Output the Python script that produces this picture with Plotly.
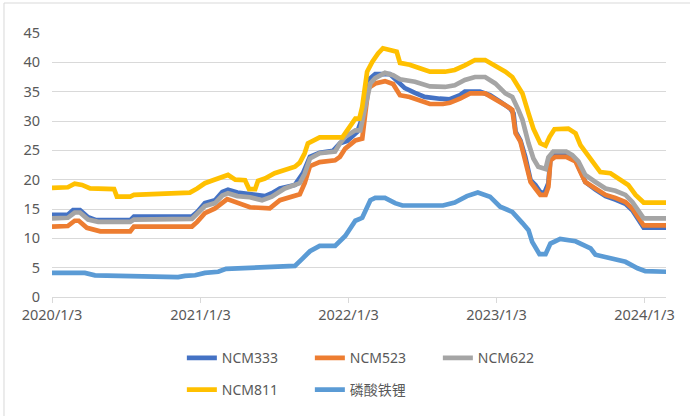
import plotly.graph_objects as go

# ---------------- data ----------------
series_names = ["NCM333", "NCM523", "NCM622", "NCM811", "磷酸铁锂"]
series_colors = ["#4472C4", "#ED7D31", "#A5A5A5", "#FFC000", "#5B9BD5"]

ncm333_dates = ["2020-01-03", "2020-02-11", "2020-02-24", "2020-03-12", "2020-04-01", "2020-04-21",
                "2020-07-14", "2020-07-23", "2020-12-13", "2020-12-26", "2021-01-14", "2021-02-08",
                "2021-02-26", "2021-03-12", "2021-04-04", "2021-05-05", "2021-06-11", "2021-06-28",
                "2021-07-18", "2021-08-24", "2021-09-13", "2021-09-30", "2021-10-24", "2021-11-26",
                "2021-12-13", "2021-12-31", "2022-01-25", "2022-02-06", "2022-02-13", "2022-02-21",
                "2022-03-10", "2022-04-15", "2022-05-02", "2022-05-22", "2022-06-16", "2022-07-10",
                "2022-08-16", "2022-09-10", "2022-10-05", "2022-10-17", "2022-11-23", "2022-12-18",
                "2023-01-12", "2023-02-06", "2023-02-14", "2023-02-19", "2023-03-03", "2023-03-15",
                "2023-03-28", "2023-04-09", "2023-04-21", "2023-05-01", "2023-05-11", "2023-05-16",
                "2023-05-28", "2023-06-24", "2023-07-17", "2023-07-29", "2023-08-10", "2023-09-04",
                "2023-09-29", "2023-10-23", "2023-11-17", "2023-12-04", "2023-12-19", "2024-01-01",
                "2024-02-26"]
ncm333_values = [14.0, 14.0, 14.8, 14.8, 13.6, 13.1,
                 13.1, 13.7, 13.7, 14.5, 16.0, 16.5,
                 17.9, 18.3, 17.8, 17.5, 17.2, 17.7,
                 18.5, 19.1, 21.1, 23.9, 24.6, 24.9,
                 26.2, 26.6, 28.2, 30.5, 32.4, 37.0,
                 38.0, 38.0, 37.0, 35.6, 34.8, 34.1,
                 33.8, 33.7, 34.4, 35.0, 35.0, 34.4,
                 33.3, 32.1, 31.3, 28.2, 26.7, 23.9,
                 19.9, 19.1, 17.9, 17.7, 19.4, 23.6,
                 24.2, 24.2, 23.4, 21.5, 19.6, 18.3,
                 17.2, 16.6, 15.9, 14.8, 13.0, 11.8,
                 11.8]

ncm523_dates = ["2020-01-03", "2020-02-11", "2020-02-28", "2020-03-09", "2020-03-29", "2020-05-01",
                "2020-07-14", "2020-07-23", "2020-12-13", "2020-12-26", "2021-01-14", "2021-02-08",
                "2021-03-10", "2021-04-11", "2021-05-05", "2021-06-23", "2021-07-18", "2021-09-05",
                "2021-09-17", "2021-09-30", "2021-10-24", "2021-12-01", "2021-12-13", "2021-12-26",
                "2022-01-20", "2022-02-06", "2022-02-21", "2022-03-10", "2022-04-03", "2022-04-23",
                "2022-05-10", "2022-06-03", "2022-06-28", "2022-07-23", "2022-08-24", "2022-09-10",
                "2022-10-05", "2022-10-30", "2022-12-06", "2022-12-31", "2023-01-25", "2023-02-11",
                "2023-02-19", "2023-03-03", "2023-03-15", "2023-03-28", "2023-04-09", "2023-04-21",
                "2023-05-04", "2023-05-11", "2023-05-16", "2023-05-28", "2023-06-24", "2023-07-17",
                "2023-07-29", "2023-08-10", "2023-09-04", "2023-09-29", "2023-10-23", "2023-11-17",
                "2023-12-04", "2023-12-19", "2024-01-01", "2024-02-26"]
ncm523_values = [12.0, 12.1, 13.0, 13.0, 11.8, 11.2,
                 11.2, 12.0, 12.0, 12.8, 14.3, 15.1,
                 16.7, 16.0, 15.3, 15.1, 16.5, 17.5,
                 19.4, 22.3, 23.0, 23.3, 23.9, 25.3,
                 26.7, 27.0, 35.6, 36.4, 36.8, 36.3,
                 34.4, 34.1, 33.4, 32.9, 32.9, 33.1,
                 33.8, 34.7, 34.7, 33.8, 32.7, 31.9,
                 27.9, 26.5, 23.3, 19.6, 18.5, 17.4,
                 17.4, 18.8, 23.3, 23.9, 23.9, 23.1,
                 21.3, 19.6, 18.5, 17.4, 16.9, 16.2,
                 15.1, 13.4, 12.2, 12.2]

ncm622_dates = ["2020-01-03", "2020-02-11", "2020-02-28", "2020-03-12", "2020-04-01", "2020-04-26",
                "2020-07-14", "2020-07-23", "2020-12-13", "2020-12-26", "2021-01-14", "2021-02-08",
                "2021-02-26", "2021-03-12", "2021-04-04", "2021-05-05", "2021-06-04", "2021-06-28",
                "2021-07-30", "2021-09-05", "2021-09-17", "2021-09-30", "2021-10-24", "2021-12-01",
                "2021-12-13", "2021-12-26", "2022-01-20", "2022-02-01", "2022-02-13", "2022-02-26",
                "2022-03-10", "2022-04-03", "2022-04-23", "2022-05-10", "2022-06-16", "2022-07-23",
                "2022-08-29", "2022-09-22", "2022-10-17", "2022-11-11", "2022-12-06", "2022-12-31",
                "2023-01-25", "2023-02-11", "2023-02-26", "2023-03-08", "2023-03-23", "2023-04-04",
                "2023-04-16", "2023-05-04", "2023-05-11", "2023-05-23", "2023-06-24", "2023-07-09",
                "2023-07-24", "2023-08-10", "2023-09-04", "2023-09-29", "2023-10-23", "2023-11-17",
                "2023-12-04", "2023-12-19", "2024-01-01", "2024-02-26"]
ncm622_values = [13.4, 13.5, 14.4, 14.4, 13.2, 12.8,
                 12.8, 13.2, 13.3, 14.1, 15.5, 16.0,
                 17.3, 17.7, 17.2, 17.0, 16.5, 17.1,
                 18.5, 19.4, 21.0, 23.6, 24.5, 24.8,
                 26.2, 27.3, 28.4, 28.4, 32.4, 36.4,
                 37.3, 38.2, 37.8, 37.1, 36.7, 35.9,
                 35.8, 36.1, 37.0, 37.5, 37.5, 36.4,
                 34.7, 34.1, 31.9, 30.2, 26.2, 23.6,
                 22.2, 21.8, 23.8, 24.8, 24.8, 24.2,
                 23.1, 20.8, 19.6, 18.5, 18.1, 17.4,
                 16.2, 14.5, 13.4, 13.4]

ncm811_dates = ["2020-01-03", "2020-02-11", "2020-02-28", "2020-03-17", "2020-04-06", "2020-06-04",
                "2020-06-11", "2020-07-14", "2020-07-23", "2020-08-27", "2020-09-06", "2020-12-08",
                "2020-12-26", "2021-01-14", "2021-02-03", "2021-02-26", "2021-03-12", "2021-03-30",
                "2021-04-23", "2021-05-03", "2021-05-18", "2021-05-25", "2021-06-11", "2021-07-05",
                "2021-07-30", "2021-08-24", "2021-09-05", "2021-09-17", "2021-09-25", "2021-10-12",
                "2021-10-24", "2021-12-19", "2022-01-02", "2022-01-20", "2022-01-30", "2022-02-06",
                "2022-02-18", "2022-03-03", "2022-03-17", "2022-03-29", "2022-04-15", "2022-05-02",
                "2022-05-10", "2022-06-03", "2022-06-28", "2022-07-23", "2022-08-29", "2022-09-22",
                "2022-10-17", "2022-11-11", "2022-12-06", "2022-12-31", "2023-01-25", "2023-02-11",
                "2023-02-26", "2023-03-08", "2023-03-23", "2023-04-04", "2023-04-21", "2023-05-04",
                "2023-05-14", "2023-05-26", "2023-06-29", "2023-07-17", "2023-07-29", "2023-08-15",
                "2023-09-04", "2023-09-16", "2023-10-11", "2023-11-05", "2023-11-24", "2023-12-12",
                "2024-01-01", "2024-02-26"]
ncm811_values = [18.6, 18.7, 19.3, 19.1, 18.5, 18.4,
                 17.1, 17.1, 17.4, 17.5, 17.7, 17.8,
                 18.5, 19.4, 19.9, 20.5, 20.8, 20.0,
                 19.9, 18.4, 18.4, 19.8, 20.2, 21.1,
                 21.6, 22.2, 22.9, 24.5, 26.2, 26.7,
                 27.2, 27.2, 28.7, 30.4, 30.4, 32.4,
                 38.4, 40.1, 41.5, 42.4, 42.1, 41.8,
                 39.9, 39.6, 39.0, 38.4, 38.4, 38.7,
                 39.5, 40.4, 40.4, 39.5, 38.4, 37.5,
                 35.8, 34.7, 31.3, 28.7, 26.2, 25.8,
                 27.3, 28.6, 28.7, 27.9, 25.9, 24.2,
                 22.5, 21.3, 21.1, 19.9, 19.1, 17.4,
                 16.1, 16.1]

lfp_dates = ["2020-01-03", "2020-03-24", "2020-04-18", "2020-08-07", "2020-08-20", "2020-11-09",
             "2020-11-26", "2020-12-21", "2021-01-14", "2021-02-16", "2021-03-07", "2021-04-23",
             "2021-06-04", "2021-07-18", "2021-08-24", "2021-09-11", "2021-09-30", "2021-10-24",
             "2021-12-01", "2021-12-26", "2022-01-20", "2022-02-06", "2022-02-26", "2022-03-10",
             "2022-04-03", "2022-04-28", "2022-05-16", "2022-08-24", "2022-09-22", "2022-10-22",
             "2022-11-18", "2022-12-18", "2023-01-12", "2023-02-11", "2023-02-26", "2023-03-08",
             "2023-03-23", "2023-04-01", "2023-04-19", "2023-05-04", "2023-05-16", "2023-06-09",
             "2023-07-17", "2023-08-23", "2023-09-04", "2023-10-23", "2023-11-17", "2023-12-17",
             "2024-01-05", "2024-02-26"]
lfp_values = [4.1, 4.1, 3.7, 3.6, 3.4, 3.4,
              3.6, 3.7, 4.1, 4.3, 4.8, 4.9,
              5.1, 5.2, 5.3, 6.5, 7.8, 8.7,
              8.7, 10.4, 13.0, 13.5, 16.5, 16.9,
              16.9, 16.0, 15.6, 15.6, 16.1, 17.2,
              17.8, 17.1, 15.4, 14.5, 13.5, 12.6,
              11.4, 9.4, 7.3, 7.3, 9.1, 9.9,
              9.5, 8.3, 7.2, 6.3, 6.0, 4.9,
              4.4, 4.3]

x_tick_dates = ["2020-01-03", "2021-01-03", "2022-01-03", "2023-01-03", "2024-01-03"]
x_tick_labels = ["2020/1/3", "2021/1/3", "2022/1/3", "2023/1/3", "2024/1/3"]
y_tick_values = [0, 5, 10, 15, 20, 25, 30, 35, 40, 45]

all_dates = [ncm333_dates, ncm523_dates, ncm622_dates, ncm811_dates, lfp_dates]
all_values = [ncm333_values, ncm523_values, ncm622_values, ncm811_values, lfp_values]
legend_slots = ["legend", "legend", "legend", "legend2", "legend2"]

# ---------------- figure ----------------
FONT = "Noto Sans, Noto Sans CJK SC, sans-serif"
TEXT = "#595959"
GRID = "#d9d9d9"

fig = go.Figure()
for name, color, d, v, lg in zip(series_names, series_colors, all_dates, all_values, legend_slots):
    fig.add_trace(go.Scatter(x=d, y=v, name=name, mode="lines",
                             line=dict(color=color, width=4.7),
                             legend=lg, hoverinfo="skip"))

legend_common = dict(orientation="h", xanchor="left", yanchor="middle",
                     entrywidth=83, entrywidthmode="pixels",
                     font=dict(family=FONT, size=14, color=TEXT),
                     bgcolor="rgba(0,0,0,0)", traceorder="normal")

fig.update_layout(
    template="none",
    width=690, height=416,
    margin=dict(l=52, r=24, t=33, b=119, autoexpand=False),
    paper_bgcolor="white", plot_bgcolor="white",
    font=dict(family=FONT, size=14, color=TEXT),
    showlegend=True,
    hovermode=False,
    legend=dict(x=0.2115, y=-0.232, **legend_common),
    legend2=dict(x=0.2115, y=-0.352, **legend_common),
    xaxis=dict(type="date", range=["2020-01-03", "2024-02-25"],
               tickvals=x_tick_dates, ticktext=x_tick_labels,
               showgrid=False, zeroline=False, automargin=False,
               showline=True, linecolor=GRID, linewidth=1,
               ticks="outside", ticklen=5, tickcolor=GRID,
               tickfont=dict(family=FONT, size=14.5, color=TEXT)),
    yaxis=dict(range=[0, 45], tickvals=y_tick_values,
               showgrid=True, gridcolor=GRID, gridwidth=1,
               zeroline=False, showline=False, ticks="", automargin=False,
               ticklabelstandoff=11,
               tickfont=dict(family=FONT, size=14.5, color=TEXT)),
    shapes=[dict(type="rect", xref="paper", yref="paper",
                 x0=-0.0782, x1=1.2, y0=-1.0, y1=1.1136,
                 line=dict(color=GRID, width=1), fillcolor="rgba(0,0,0,0)", layer="below")],
)

fig.write_html("out.html",
               config={"displayModeBar": False},
               post_script="document.body.style.margin='0';document.body.style.overflow='hidden';")
